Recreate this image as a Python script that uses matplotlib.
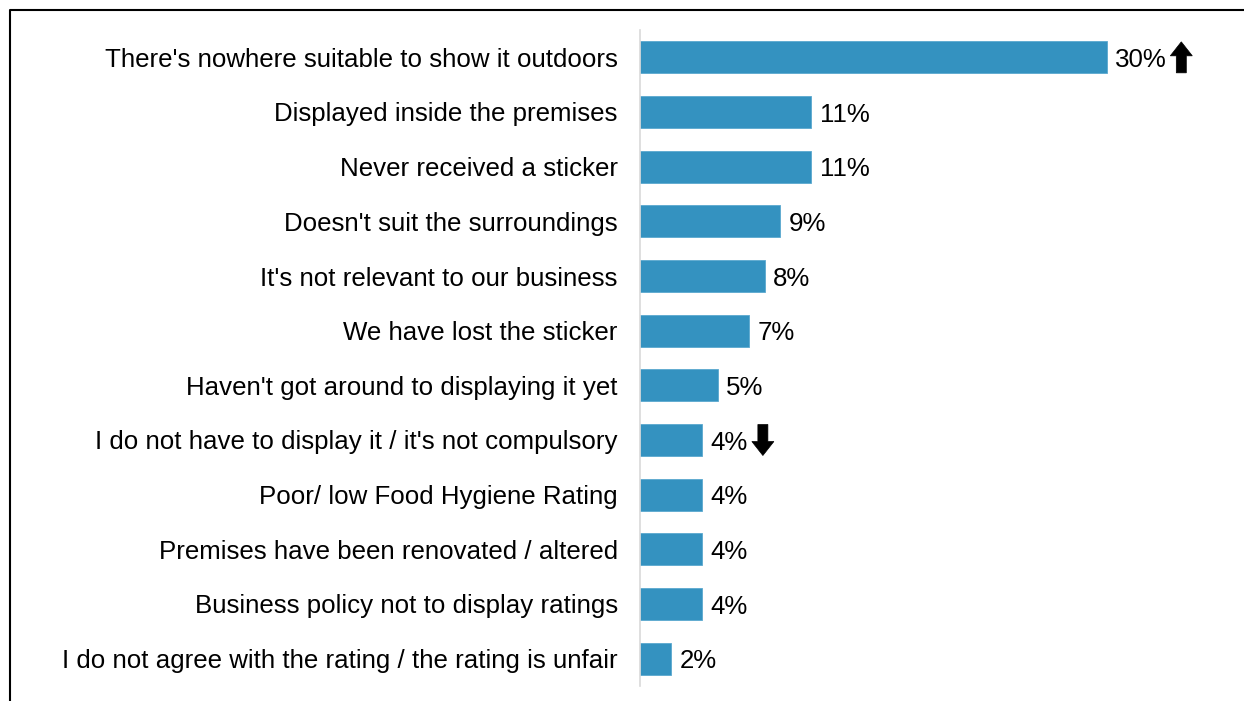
import matplotlib.pyplot as plt
from matplotlib.lines import Line2D
from matplotlib.patches import Polygon
from matplotlib.transforms import ScaledTranslation

plt.rcParams['font.family'] = ['Liberation Sans', 'DejaVu Sans']

reasons = [
    "There's nowhere suitable to show it outdoors",
    "Displayed inside the premises",
    "Never received a sticker",
    "Doesn't suit the surroundings",
    "It's not relevant to our business",
    "We have lost the sticker",
    "Haven't got around to displaying it yet",
    "I do not have to display it / it's not compulsory",
    "Poor/ low Food Hygiene Rating",
    "Premises have been renovated / altered",
    "Business policy not to display ratings",
    "I do not agree with the rating / the rating is unfair",
]
percent = [30, 11, 11, 9, 8, 7, 5, 4, 4, 4, 4, 2]
# significant change vs previous wave: +1 up, -1 down
change = [1, 0, 0, 0, 0, 0, 0, -1, 0, 0, 0, 0]

FS = 18.6

fig = plt.figure(figsize=(12.44, 7.01), dpi=100)
ax = fig.add_axes([640 / 1244, 1 - 686 / 701, 560 / 1244, 656 / 701])

y = list(range(len(reasons)))
ax.barh(y, percent, height=0.58, color='#3492c0', edgecolor='#5aa8cf', linewidth=0.6)
ax.set_ylim(len(reasons) - 0.5, -0.5)
ax.set_xlim(0, 560 / 15.57)

ax.set_yticks(y)
ax.set_yticklabels(reasons, fontsize=FS)
ax.tick_params(axis='y', length=0, pad=16)
ax.set_xticks([])
for side in ['top', 'right', 'bottom']:
    ax.spines[side].set_visible(False)
ax.spines['left'].set_color('#d9d9d9')
ax.spines['left'].set_linewidth(1.2)

# block arrow outline in inches, centred on the origin, pointing up
half_w, half_h, head_h, shaft = 0.11, 0.155, 0.14, 0.05
up_arrow = [(-shaft, -half_h), (shaft, -half_h), (shaft, half_h - head_h),
            (half_w, half_h - head_h), (0, half_h), (-half_w, half_h - head_h),
            (-shaft, half_h - head_h)]

for yi, v, c in zip(y, percent, change):
    label = f"{v}%"
    ax.annotate(label, (v, yi), xytext=(6, 0), textcoords='offset points',
                ha='left', va='center_baseline', fontsize=FS)
    if c:
        digits = len(str(v))
        dx = (8 + 13.6 * digits + 39) / 100
        pts = [(px, py * c) for px, py in up_arrow]
        trans = (fig.dpi_scale_trans + ScaledTranslation(v, yi, ax.transData))
        shift = ScaledTranslation(dx, 0, fig.dpi_scale_trans)
        ax.add_patch(Polygon(pts, closed=True, facecolor='black', edgecolor='black',
                             linewidth=0.5, transform=trans + shift, clip_on=False))

# outer frame, open on the right and bottom
fx = 10 / 1244
fy = 1 - 10 / 701
fig.add_artist(Line2D([fx, fx, 1.1], [-0.1, fy, fy], transform=fig.transFigure,
                      color='black', linewidth=1.5))

fig.savefig('out.png', dpi=100)
